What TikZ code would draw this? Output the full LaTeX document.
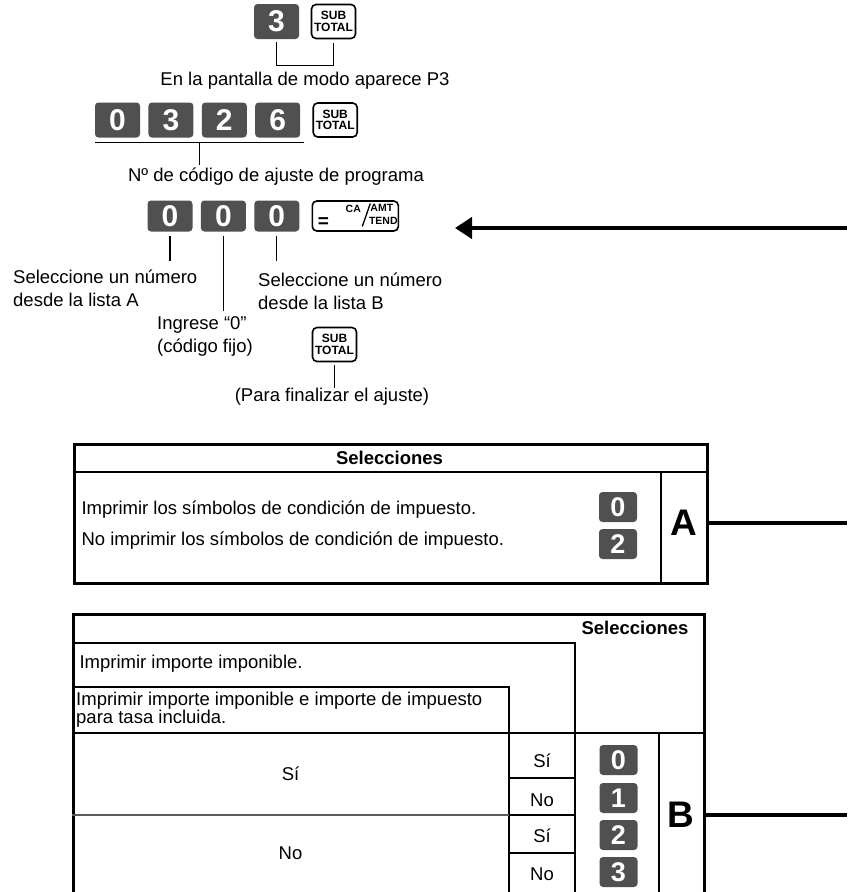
\documentclass[tikz,border=0pt]{standalone}
\usepackage{fontspec}
\setmainfont{Liberation Sans}
\usetikzlibrary{arrows.meta,positioning,calc}
\definecolor{KeyFill}{HTML}{505050}
\definecolor{Ink}{HTML}{000000}
\definecolor{SoftRule}{HTML}{5A5A5A}

\begin{document}
\begin{tikzpicture}[x=1pt,y=-1pt,font=\fontsize{18.5}{23}\selectfont,
numkey/.style={fill=KeyFill,rounded corners=3.5pt,text=white,inner sep=0pt,minimum width=45pt,minimum height=35pt,font=\fontsize{30}{30}\selectfont\bfseries},
tabkey/.style={numkey,minimum width=38pt,minimum height=30pt,font=\fontsize{27}{27}\selectfont\bfseries},
fnkey/.style={draw=Ink,line width=1.6pt,rounded corners=4.5pt,fill=white,inner sep=0pt,minimum width=44pt,minimum height=34pt,align=center,font=\fontsize{12}{11.5}\selectfont\bfseries},
keytext/.style={inner sep=0pt,font=\fontsize{10.5}{10.5}\selectfont\bfseries},
calloutline/.style={draw=Ink,line width=1.3pt},
leader/.style={draw=Ink,line width=4.5pt},
frame/.style={draw=Ink,line width=2.6pt},
rulebar/.style={draw=Ink,line width=2pt},
hair/.style={draw=Ink,line width=1.4pt},
note/.style={align=left,inner sep=0pt},
tabletter/.style={font=\fontsize{37}{37}\selectfont\bfseries}]
\useasboundingbox (0,0) rectangle (847,892);
% mode key sequence
\node[numkey] (k3) at (276.5,21.5) {3};
\node[fnkey] (st1) at (333.5,21.5) {SUB\\TOTAL};
\draw[calloutline] ($(k3.south)+(0,3)$) -- ++(0,23) -| ($(st1.south)+(0,3.5)$);
\node (msgP3) at (305,81) {En la pantalla de modo aparece P3};
% program code
\node[numkey] (c0) at (117.5,120) {0};
\node[numkey,right=8pt of c0] (c3) {3};
\node[numkey,right=8pt of c3] (c2) {2};
\node[numkey,right=8pt of c2] (c6) {6};
\node[fnkey,right=12pt of c6] (st2) {SUB\\TOTAL};
\coordinate (ulL) at ($(c0.south west)+(0,5)$);
\coordinate (ulR) at ($(c6.south east)+(4,5)$);
\draw[hair] (ulL) -- (ulR);
\draw[calloutline] ($(ulL)!.5!(ulR)$) -- ++(0,22);
\node (codeno) at (276,177) {Nº de código de ajuste de programa};
% selection keys
\node[numkey,minimum height=31pt] (sa) at (170,216) {0};
\node[numkey,minimum height=31pt,right=8pt of sa] (sf) {0};
\node[numkey,minimum height=31pt,right=8pt of sf] (sb) {0};
\node[fnkey,minimum width=86pt,minimum height=30pt,right=12pt of sb] (eq) {};
\node[inner sep=0pt,font=\fontsize{19}{19}\selectfont\bfseries] (eqSign) at ($(eq.center)+(-32,7)$) {=};
\node[keytext] (eqCA) at ($(eq.center)+(-2,-7.5)$) {CA};
\draw[line width=1.3pt] ($(eq.center)+(7,10.5)$) -- ($(eq.center)+(15,-12.5)$);
\node[keytext] (eqAMT) at ($(eq.center)+(26.5,-8.5)$) {AMT};
\node[keytext] (eqTEND) at ($(eq.center)+(28,4.5)$) {TEND};
\draw[calloutline] ($(sa.south)+(0,4)$) -- ++(0,25);
\draw[calloutline] ($(sf.south)+(0,4)$) -- ++(0,75);
\draw[calloutline] ($(sb.south)+(0,4)$) -- ++(0,25);
\node[note,anchor=west] (listA) at (13,288) {Seleccione un número\\desde la lista A};
\node[note,anchor=west] (listB) at (258,291) {Seleccione un número\\desde la lista B};
\node[note,anchor=west] (fixed) at (157,336) {Ingrese “0”\\(código fijo)};
\node[fnkey] (st3) at (334.5,344.5) {SUB\\TOTAL};
\draw[calloutline] ($(st3.south)+(0,3)$) -- ++(0,23);
\node (finish) at (332,397) {(Para finalizar el ajuste)};
\coordinate (edgeTop) at (847,228);
\coordinate (arrowTip) at (455,228);
\draw[leader,-{Triangle[length=17pt,width=21pt]}] (edgeTop) -- (arrowTip);
% list A
\node[frame,anchor=north west,inner sep=0pt,minimum width=633pt,minimum height=139pt] (tabA) at (73,443) {};
\draw[rulebar] (73,472) -- (706,472);
\draw[rulebar] (661,472) -- (661,582);
\node[font=\fontsize{18.5}{22}\selectfont\bfseries] (selA) at (389.5,458) {Selecciones};
\node[anchor=west] (rowA1) at (78,510) {Imprimir los símbolos de condición de impuesto.};
\node[anchor=west] (rowA2) at (78,541) {No imprimir los símbolos de condición de impuesto.};
\node[tabkey] (kA0) at (618,507) {0};
\node[tabkey] (kA2) at (618,544) {2};
\node[tabletter] (tagA) at (683.5,523) {A};
\coordinate (edgeA) at (847,523);
\draw[leader] (tabA.east |- tagA) -- (edgeA);
% list B
\node[frame,anchor=north west,inner sep=0pt,minimum width=631pt,minimum height=290pt] (tabB) at (72,613) {};
\draw[rulebar] (72,643) -- (575,643) -- (575,903);
\draw[hair] (72,687) -- (509,687) -- (509,903);
\draw[frame] (72,733) -- (703,733);
\draw[rulebar] (659,733) -- (659,903);
\draw[hair,draw=SoftRule] (72,815) -- (509,815);
\draw[hair] (509,778) -- (575,778) (509,815) -- (575,815) (509,853) -- (575,853);
\node[font=\fontsize{18.5}{22}\selectfont\bfseries,anchor=east] (selB) at (692,628) {Selecciones};
\node[anchor=west] (taxable) at (76,664) {Imprimir importe imponible.};
\node[note,anchor=north west,font=\fontsize{18.5}{15.5}\selectfont] (inclusive) at (76,692) {Imprimir importe imponible e importe de impuesto\\para tasa incluida.};
\node (optYes) at (290.5,774) {Sí};
\node (optNo) at (290.5,853) {No};
\node (subYes1) at (542,761) {Sí};
\node (subNo1) at (542,800) {No};
\node (subYes2) at (542,836) {Sí};
\node (subNo2) at (542,874) {No};
\node[tabkey] (kB0) at (618.5,760) {0};
\node[tabkey] (kB1) at (618.5,798) {1};
\node[tabkey] (kB2) at (618.5,835) {2};
\node[tabkey] (kB3) at (618.5,872) {3};
\node[tabletter] (tagB) at (681,815) {B};
\coordinate (edgeB) at (847,815);
\draw[leader] (tabB.east |- tagB) -- (edgeB);
\end{tikzpicture}
\end{document}
